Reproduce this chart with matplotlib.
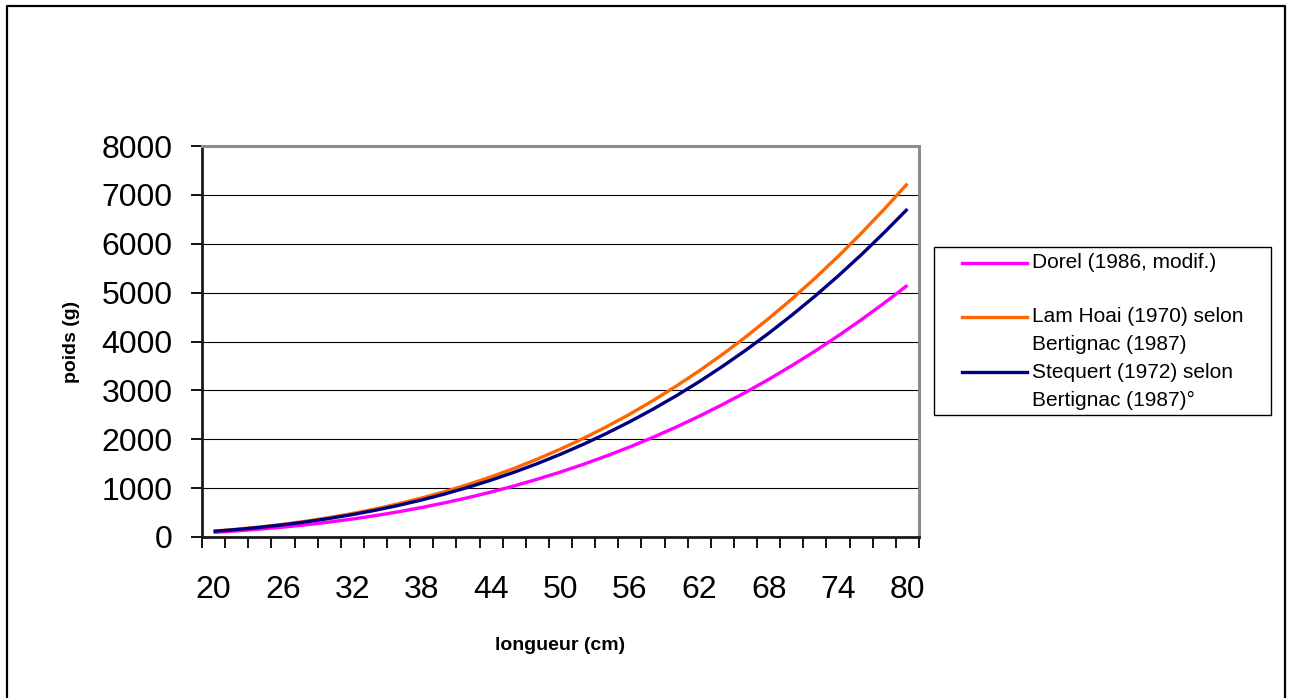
import matplotlib
matplotlib.use("Agg")
import matplotlib.pyplot as plt
from matplotlib.lines import Line2D
from matplotlib.patches import Rectangle
from matplotlib.ticker import MultipleLocator, FixedLocator

plt.rcParams["font.family"] = ["Liberation Sans", "DejaVu Sans"]

# fish length (cm) and weight (g) per relation
longueur = list(range(20, 81, 2))
dorel = [95, 125, 161, 202, 250, 305, 368, 438, 516, 604, 700, 805, 920, 1046, 1183,
         1330, 1489, 1660, 1844, 2040, 2249, 2472, 2709, 2959, 3225, 3506, 3802,
         4114, 4443, 4788, 5150]
lam_hoai = [119, 158, 205, 260, 323, 397, 480, 574, 680, 798, 929, 1073, 1232, 1405,
            1594, 1799, 2020, 2259, 2515, 2791, 3086, 3400, 3735, 4091, 4469, 4869,
            5293, 5740, 6212, 6708, 7230]
stequert = [116, 153, 197, 249, 310, 379, 458, 547, 647, 758, 880, 1016, 1164, 1326,
            1502, 1693, 1899, 2122, 2360, 2615, 2888, 3179, 3490, 3819, 4168, 4538,
            4927, 5339, 5773, 6231, 6710]

series = [
    (dorel, "#ff00ff", ["Dorel (1986, modif.)"]),
    (lam_hoai, "#ff6600", ["Lam Hoai (1970) selon", "Bertignac (1987)"]),
    (stequert, "#000080", ["Stequert (1972) selon", "Bertignac (1987)°"]),
]
x_labels = list(range(20, 81, 6))

W, H = 1293, 698
fig = plt.figure(figsize=(W / 100, H / 100), dpi=100)
ax = fig.add_axes([202 / W, 1 - 537 / H, 717 / W, 391 / H])

for vals, color, _ in series:
    ax.plot(longueur, vals, color=color, lw=2.4, solid_capstyle="butt", zorder=3)

ax.set_xlim(19, 81)
ax.set_ylim(0, 8000)
ax.yaxis.set_major_locator(MultipleLocator(1000))
ax.xaxis.set_major_locator(FixedLocator(x_labels))
ax.xaxis.set_minor_locator(FixedLocator(list(range(19, 82, 2))))
ax.tick_params(axis="x", which="major", length=0, pad=27, labelsize=23)
ax.tick_params(axis="x", which="minor", length=8, width=1.3, color="black", direction="out")
ax.tick_params(axis="y", length=8, width=1.3, color="black", direction="out",
               pad=13, labelsize=23)
ax.grid(axis="y", color="black", lw=0.8)
ax.set_axisbelow(True)

for side in ["top", "right"]:
    ax.spines[side].set_color("#8c8c8c")
    ax.spines[side].set_linewidth(2.2)
for side in ["left", "bottom"]:
    ax.spines[side].set_color("#1a1a1a")
    ax.spines[side].set_linewidth(2.0)

fig.text(71.7 / W, 1 - 341.5 / H, "poids (g)", rotation=90, ha="center", va="center",
         fontsize=14, fontweight="bold")
fig.text(560.5 / W, 1 - 645 / H, "longueur (cm)", ha="center", va="center",
         fontsize=14, fontweight="bold")

# legend box drawn by hand so the two-line entries line up like the original
fig.add_artist(Rectangle((934 / W, 1 - 415 / H), (1271 - 934) / W, (415 - 247) / H,
                         transform=fig.transFigure, facecolor="white",
                         edgecolor="black", lw=1))
rows = [[263], [317, 345], [372, 400]]
for (vals, color, label), ys in zip(series, rows):
    fig.add_artist(Line2D([962 / W, 1027 / W], [1 - ys[0] / H] * 2, color=color,
                          lw=2.4, transform=fig.transFigure))
    for text, y in zip(label, ys):
        fig.text(1032 / W, 1 - y / H, text, ha="left", va="center", fontsize=15)

# outer chart border
fig.add_artist(Line2D([6.5 / W, 6.5 / W, 1284.5 / W, 1284.5 / W],
                      [0, 1 - 5.5 / H, 1 - 5.5 / H, 0], color="black", lw=1.6,
                      transform=fig.transFigure))

fig.savefig("out.png", dpi=100)
